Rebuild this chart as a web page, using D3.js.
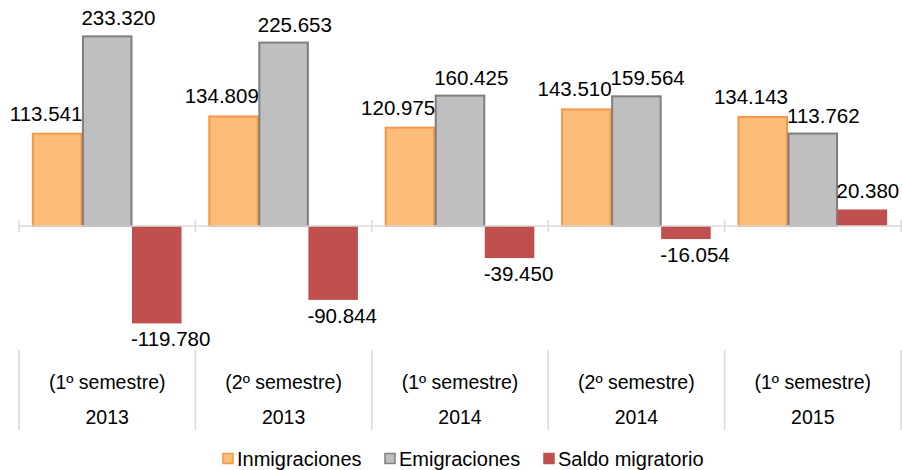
<!DOCTYPE html>
<html>
<head>
<meta charset="utf-8">
<script src="https://cdn.jsdelivr.net/npm/d3@7"></script>
<style>
	body { margin: 0; background: #fff; }
	svg text { font-family: "Liberation Sans", Arial, sans-serif; fill: #000; }
	.axis-line { stroke: #d9d9d9; stroke-width: 1.5; }
	.label { font-size: 20.5px; }
	.cat { font-size: 19.5px; }
	.legend { font-size: 20px; }
</style>
</head>
<body>
<div class="svg-container"></div>
<script>
var periods = ['(1º semestre)', '(2º semestre)', '(1º semestre)', '(2º semestre)', '(1º semestre)'];
var years = ['2013', '2013', '2014', '2014', '2015'];
var seriesNames = ['Inmigraciones', 'Emigraciones', 'Saldo migratorio'];
var inmigraciones = [113.541, 134.809, 120.975, 143.510, 134.143];
var emigraciones = [233.320, 225.653, 160.425, 159.564, 113.762];
var saldo = [-119.780, -90.844, -39.450, -16.054, 20.380];

var fills = ['#fbbd78', '#bfbfbf', '#c0504d'];
var strokes = ['#f79646', '#7f7f7f', 'none'];

var width = 902, height = 470;
var values = [inmigraciones, emigraciones, saldo];
var cats = periods.map(function(p, i) { return i; });

var svg = d3.select('.svg-container')
	.append('svg')
	.attr('width', width)
	.attr('height', height);

var x0 = d3.scaleBand()
	.domain(cats)
	.range([19, 901]);

var x1 = d3.scaleBand()
	.domain(seriesNames)
	.range([0, x0.bandwidth()])
	.paddingOuter(0.28);

// zero sits at y=226, about 0.813 px per unit
var yScale = d3.scaleLinear()
	.domain([-160, 250])
	.range([356.1, 22.8]);

var fmt = function(v) {
	return d3.format('.3f')(v).replace('\u2212', '-');
};

// bars
seriesNames.forEach(function(name, s) {
	var g = svg.append('g');
	g.selectAll('rect')
		.data(values[s])
		.enter()
		.append('rect')
		.attr('x', function(d, i) { return x0(i) + x1(name) + (s === 1 ? 0.5 : 0); })
		.attr('width', x1.bandwidth() - (s < 2 ? 1 : 0))
		.attr('y', function(d) { return yScale(Math.max(0, d)); })
		.attr('height', function(d) { return Math.abs(yScale(d) - yScale(0)); })
		.attr('fill', fills[s])
		.attr('stroke', strokes[s])
		.attr('stroke-width', 2);
});

// zero axis with ticks
svg.append('line')
	.attr('class', 'axis-line')
	.attr('x1', x0.range()[0])
	.attr('x2', x0.range()[1])
	.attr('y1', yScale(0))
	.attr('y2', yScale(0));

var bounds = cats.concat([cats.length]).map(function(i) {
	return i < cats.length ? x0(i) : x0.range()[1];
});

svg.append('g')
	.selectAll('line')
	.data(bounds)
	.enter()
	.append('line')
	.attr('class', 'axis-line')
	.attr('x1', function(d) { return d; })
	.attr('x2', function(d) { return d; })
	.attr('y1', yScale(0) - 6)
	.attr('y2', yScale(0) + 6);

// value labels: inmigraciones end at bar's right edge, the others start at its left edge
var anchors = ['end', 'start', 'start'];
seriesNames.forEach(function(name, s) {
	svg.append('g')
		.selectAll('text')
		.data(values[s])
		.enter()
		.append('text')
		.attr('class', 'label')
		.attr('text-anchor', anchors[s])
		.attr('x', function(d, i) {
			var left = x0(i) + x1(name);
			return s === 0 ? left + x1.bandwidth() : left - 1;
		})
		.attr('y', function(d) {
			return d >= 0 ? yScale(d) - (s === 0 ? 13 : 11) : yScale(d) + 23;
		})
		.text(function(d) { return fmt(d); });
});

// category table below
svg.append('g')
	.selectAll('line')
	.data(bounds)
	.enter()
	.append('line')
	.attr('class', 'axis-line')
	.attr('x1', function(d) { return d; })
	.attr('x2', function(d) { return d; })
	.attr('y1', 350)
	.attr('y2', 430);

svg.append('g')
	.selectAll('text')
	.data(periods)
	.enter()
	.append('text')
	.attr('class', 'cat')
	.attr('text-anchor', 'middle')
	.attr('x', function(d, i) { return x0(i) + x0.bandwidth() / 2; })
	.attr('y', 389)
	.text(function(d) { return d; });

svg.append('g')
	.selectAll('text')
	.data(years)
	.enter()
	.append('text')
	.attr('class', 'cat')
	.attr('text-anchor', 'middle')
	.attr('x', function(d, i) { return x0(i) + x0.bandwidth() / 2; })
	.attr('y', 424)
	.text(function(d) { return d; });

// legend
var legendX = [222, 384, 543];
var legend = svg.append('g');
seriesNames.forEach(function(name, s) {
	legend.append('rect')
		.attr('x', legendX[s] + 1)
		.attr('y', 453.5)
		.attr('width', 10)
		.attr('height', 10)
		.attr('fill', fills[s])
		.attr('stroke', strokes[s] === 'none' ? fills[s] : strokes[s])
		.attr('stroke-width', 1.5);
	legend.append('text')
		.attr('class', 'legend')
		.attr('x', legendX[s] + 15)
		.attr('y', 466)
		.text(name);
});
</script>
</body>
</html>
